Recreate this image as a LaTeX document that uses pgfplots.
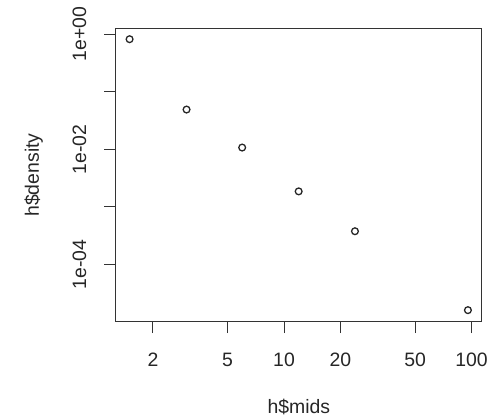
\documentclass[border=0pt]{standalone}
\usepackage{pgfplots}
\pgfplotsset{compat=1.18}
\usetikzlibrary{calc}
\usepackage{fontspec}
\setmainfont{Liberation Sans}
\begin{document}
\begin{tikzpicture}
\begin{axis}[
  at={(0,0)}, anchor=south west,
  scale only axis,
  width=367.5pt, height=293.7pt,
  xmode=log, ymode=log,
  xmin=1.269, xmax=113.5,
  ymin=1.02e-5, ymax=1.24,
  axis line style={line width=1pt, color=black!80},
  tick style={line width=1pt, color=black!80},
  tick align=outside,
  major tick length=12pt,
  minor tick length=0pt,
  minor tick style={draw=none},
  xtick={2,5,10,20,50,100},
  xticklabels={2,5,10,20,50,100},
  ytick={1e-4,1e-3,1e-2,1e-1,1},
  yticklabels={1e-04,,1e-02,,1e+00},
  xtick pos=bottom, ytick pos=left,
  font=\fontsize{19.5}{22}\selectfont,
  /pgf/number format/assume math mode=true,
  xticklabel style={anchor=base, yshift=-33.3pt, font=\fontsize{19.5}{22}\selectfont, color=black!85},
  yticklabel style={rotate=90, anchor=base, yshift=18pt, font=\fontsize{19.5}{22}\selectfont, color=black!85},
  xlabel={h\$mids},
  ylabel={h\$density},
  every axis x label/.style={at={(axis description cs:0.5,0)}, anchor=base, yshift=-92.3pt, color=black!85},
  every axis y label/.style={at={(axis description cs:0,0.5)}, rotate=90, anchor=base, yshift=77.5pt, color=black!85},
]
\addplot[only marks, mark=o, mark size=3.4pt, line width=1.3pt, color=black!85] coordinates {
  (1.5, 0.82)
  (3.02, 0.049)
  (5.98, 0.0107)
  (11.97, 0.00185)
  (23.9, 0.000375)
  (95.7, 0.0000159)
};
\end{axis}
\path[use as bounding box] ($(current axis.south west)+(-116.5pt,-96.3pt)$) rectangle ($(current axis.south west)+(374.5pt,322.7pt)$);
\end{tikzpicture}
\end{document}
